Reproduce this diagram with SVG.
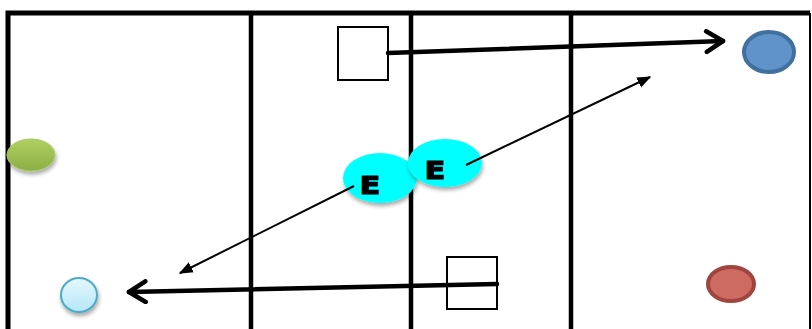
<svg xmlns="http://www.w3.org/2000/svg" width="812" height="329" viewBox="0 0 812 329">
<defs>
<style>
.frame{stroke:#000;stroke-width:5;fill:none}
.div{stroke:#000;stroke-width:4.5}
.box{fill:#fff;stroke:#000;stroke-width:2}
.thick{stroke:#000;stroke-width:4.5;fill:none;stroke-linecap:round}
.thin{stroke:#000;stroke-width:2;fill:none}
.ent{fill:#00ffff;stroke:none}
.lbl{font-family:"DejaVu Sans","Liberation Sans",sans-serif;font-weight:900;font-size:24px;fill:#000;stroke:#000;stroke-width:1.2;text-anchor:middle}
</style>
<filter id="sh" x="-30%" y="-30%" width="160%" height="170%">
<feGaussianBlur in="SourceAlpha" stdDeviation="2"/>
<feOffset dx="1" dy="3" result="b"/>
<feComponentTransfer><feFuncA type="linear" slope="0.35"/></feComponentTransfer>
<feMerge><feMergeNode/><feMergeNode in="SourceGraphic"/></feMerge>
</filter>
<linearGradient id="gGreen" x1="0" y1="0" x2="0" y2="1">
<stop offset="0" stop-color="#b0d060"/><stop offset="1" stop-color="#8cae45"/>
</linearGradient>
<linearGradient id="gCyan" x1="0" y1="0" x2="0" y2="1">
<stop offset="0" stop-color="#e6f7fd"/><stop offset="1" stop-color="#b5e6f8"/>
</linearGradient>
<marker id="open" viewBox="0 0 12 12" refX="10" refY="6" markerWidth="5.5" markerHeight="5.5" orient="auto" markerUnits="strokeWidth">
<path d="M2,1 L10,6 L2,11" fill="none" stroke="#000" stroke-width="2.2" stroke-linecap="round" stroke-linejoin="round"/>
</marker>
<marker id="tri" viewBox="0 0 10 10" refX="9" refY="5" markerWidth="7" markerHeight="7" orient="auto" markerUnits="strokeWidth">
<path d="M0,1 L10,5 L0,9 Z" fill="#000"/>
</marker>
</defs>
<rect width="812" height="329" fill="#fff"/>
<g id="frame">
<path class="frame" d="M8,335 V13 H810"/>
<line x1="810" y1="13" x2="810" y2="335" stroke="#000" stroke-width="2"/>
<line class="div" x1="251" y1="13" x2="251" y2="335"/>
<line class="div" x1="411" y1="13" x2="411" y2="335"/>
<line class="div" x1="571" y1="13" x2="571" y2="335"/>
</g>
<g id="box1"><rect class="box" x="338" y="27" width="50" height="53"/></g>
<g id="box2"><rect class="box" x="447" y="257" width="50" height="52"/></g>
<g id="e1">
<ellipse class="ent" cx="380" cy="178" rx="37" ry="25" filter="url(#sh)"/>
<text class="lbl" x="370" y="194" transform="translate(370 0) scale(1.25 1) translate(-370 0)">E</text>
</g>
<g id="e2">
<ellipse class="ent" cx="445" cy="163" rx="37" ry="24" filter="url(#sh)"/>
<text class="lbl" x="435" y="179" transform="translate(435 0) scale(1.25 1) translate(-435 0)">E</text>
</g>
<g id="green"><ellipse cx="31" cy="155" rx="24" ry="16" fill="url(#gGreen)" stroke="#a7c86a" stroke-width="1" filter="url(#sh)"/></g>
<g id="cyan"><ellipse cx="79" cy="295" rx="18" ry="17" fill="url(#gCyan)" stroke="#4bacc6" stroke-width="2" filter="url(#sh)"/></g>
<g id="blue"><ellipse cx="769" cy="52" rx="25" ry="20" fill="#5f93c9" stroke="#41709f" stroke-width="4"/></g>
<g id="red"><ellipse cx="731" cy="284" rx="23" ry="17" fill="#cd6a62" stroke="#a0443e" stroke-width="4"/></g>
<g id="connectors">
<line class="thick" x1="388" y1="53" x2="723" y2="41" marker-end="url(#open)"/>
<line class="thick" x1="497" y1="284" x2="129" y2="292" marker-end="url(#open)"/>
<line class="thin" x1="466" y1="165" x2="650" y2="77" marker-end="url(#tri)"/>
<line class="thin" x1="354" y1="186" x2="180" y2="273" marker-end="url(#tri)"/>
</g>
</svg>
